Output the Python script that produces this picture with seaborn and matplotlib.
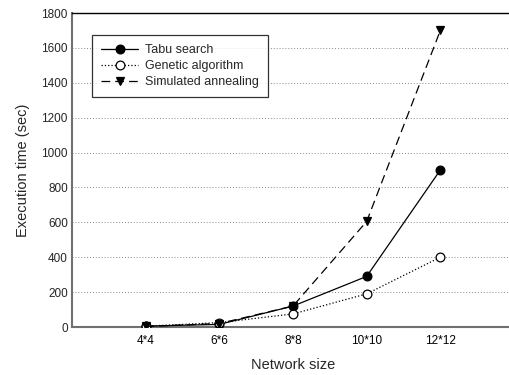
import matplotlib
matplotlib.use("Agg")
import matplotlib.pyplot as plt
import seaborn as sns
import pandas as pd

categories = ["4*4", "6*6", "8*8", "10*10", "12*12"]
positions = [4, 6, 8, 10, 12]
tabu = [5, 15, 120, 290, 900]
genetic = [5, 25, 75, 190, 400]
annealing = [3, 20, 120, 605, 1700]
y_ticks = [0, 200, 400, 600, 800, 1000, 1200, 1400, 1600, 1800]

sns.set_style("white")
plt.rcParams['font.family'] = ['Liberation Sans', 'DejaVu Sans']

W, H = 509, 375
fig = plt.figure(figsize=(W / 100, H / 100), dpi=100)
ax = fig.add_axes([72 / W, 1 - 327 / H, (514 - 72) / W, (327 - 13) / H])

series = [
    ("Tabu search", tabu, dict(linestyle="-", marker="o", mfc="black", mec="black")),
    ("Genetic algorithm", genetic, dict(linestyle=":", marker="o", mfc="white", mec="black")),
    ("Simulated annealing", annealing, dict(linestyle=(0, (7, 4)), marker="v", mfc="black", mec="black")),
]
for name, vals, kw in series:
    df = pd.DataFrame({"x": positions, "y": vals})
    sns.lineplot(data=df, x="x", y="y", ax=ax, color="black", linewidth=0.9,
                 markersize=6.3, markeredgewidth=0.9, label=name, zorder=3, **kw)

ax.set_xlim(2, 14)
ax.set_ylim(0, 1800)
ax.set_xticks(positions)
ax.set_xticklabels(categories)
ax.set_yticks(y_ticks)
ax.set_yticklabels([str(v) for v in y_ticks])

for v in y_ticks[1:-1]:
    ax.axhline(v, color="#888888", linestyle=(0, (1, 2)), linewidth=0.7, zorder=1)

for s in ["left", "bottom"]:
    ax.spines[s].set_color("#707070")
    ax.spines[s].set_linewidth(1.5)
ax.spines["top"].set_color("black")
ax.spines["top"].set_linewidth(1.0)
ax.spines["right"].set_visible(False)

ax.tick_params(axis="x", direction="out", length=3, width=0.8, colors="#555555",
               labelcolor="black", labelsize=8.5, pad=3)
ax.tick_params(axis="y", direction="out", length=0, labelsize=8.5, pad=3)

ax.set_xlabel("Network size", fontsize=10.5, labelpad=8)
ax.set_ylabel("Execution time (sec)", fontsize=10.5, labelpad=8)

leg = ax.legend(loc="upper left", bbox_to_anchor=((92 - 72) / 442, 1 - (35 - 13) / 314),
                borderaxespad=0, frameon=True, fancybox=False, fontsize=9,
                handlelength=2.9, borderpad=0.75, labelspacing=0.3, handletextpad=0.6)
leg.get_frame().set_edgecolor("black")
leg.get_frame().set_linewidth(0.9)

fig.savefig("out.png", dpi=100)
